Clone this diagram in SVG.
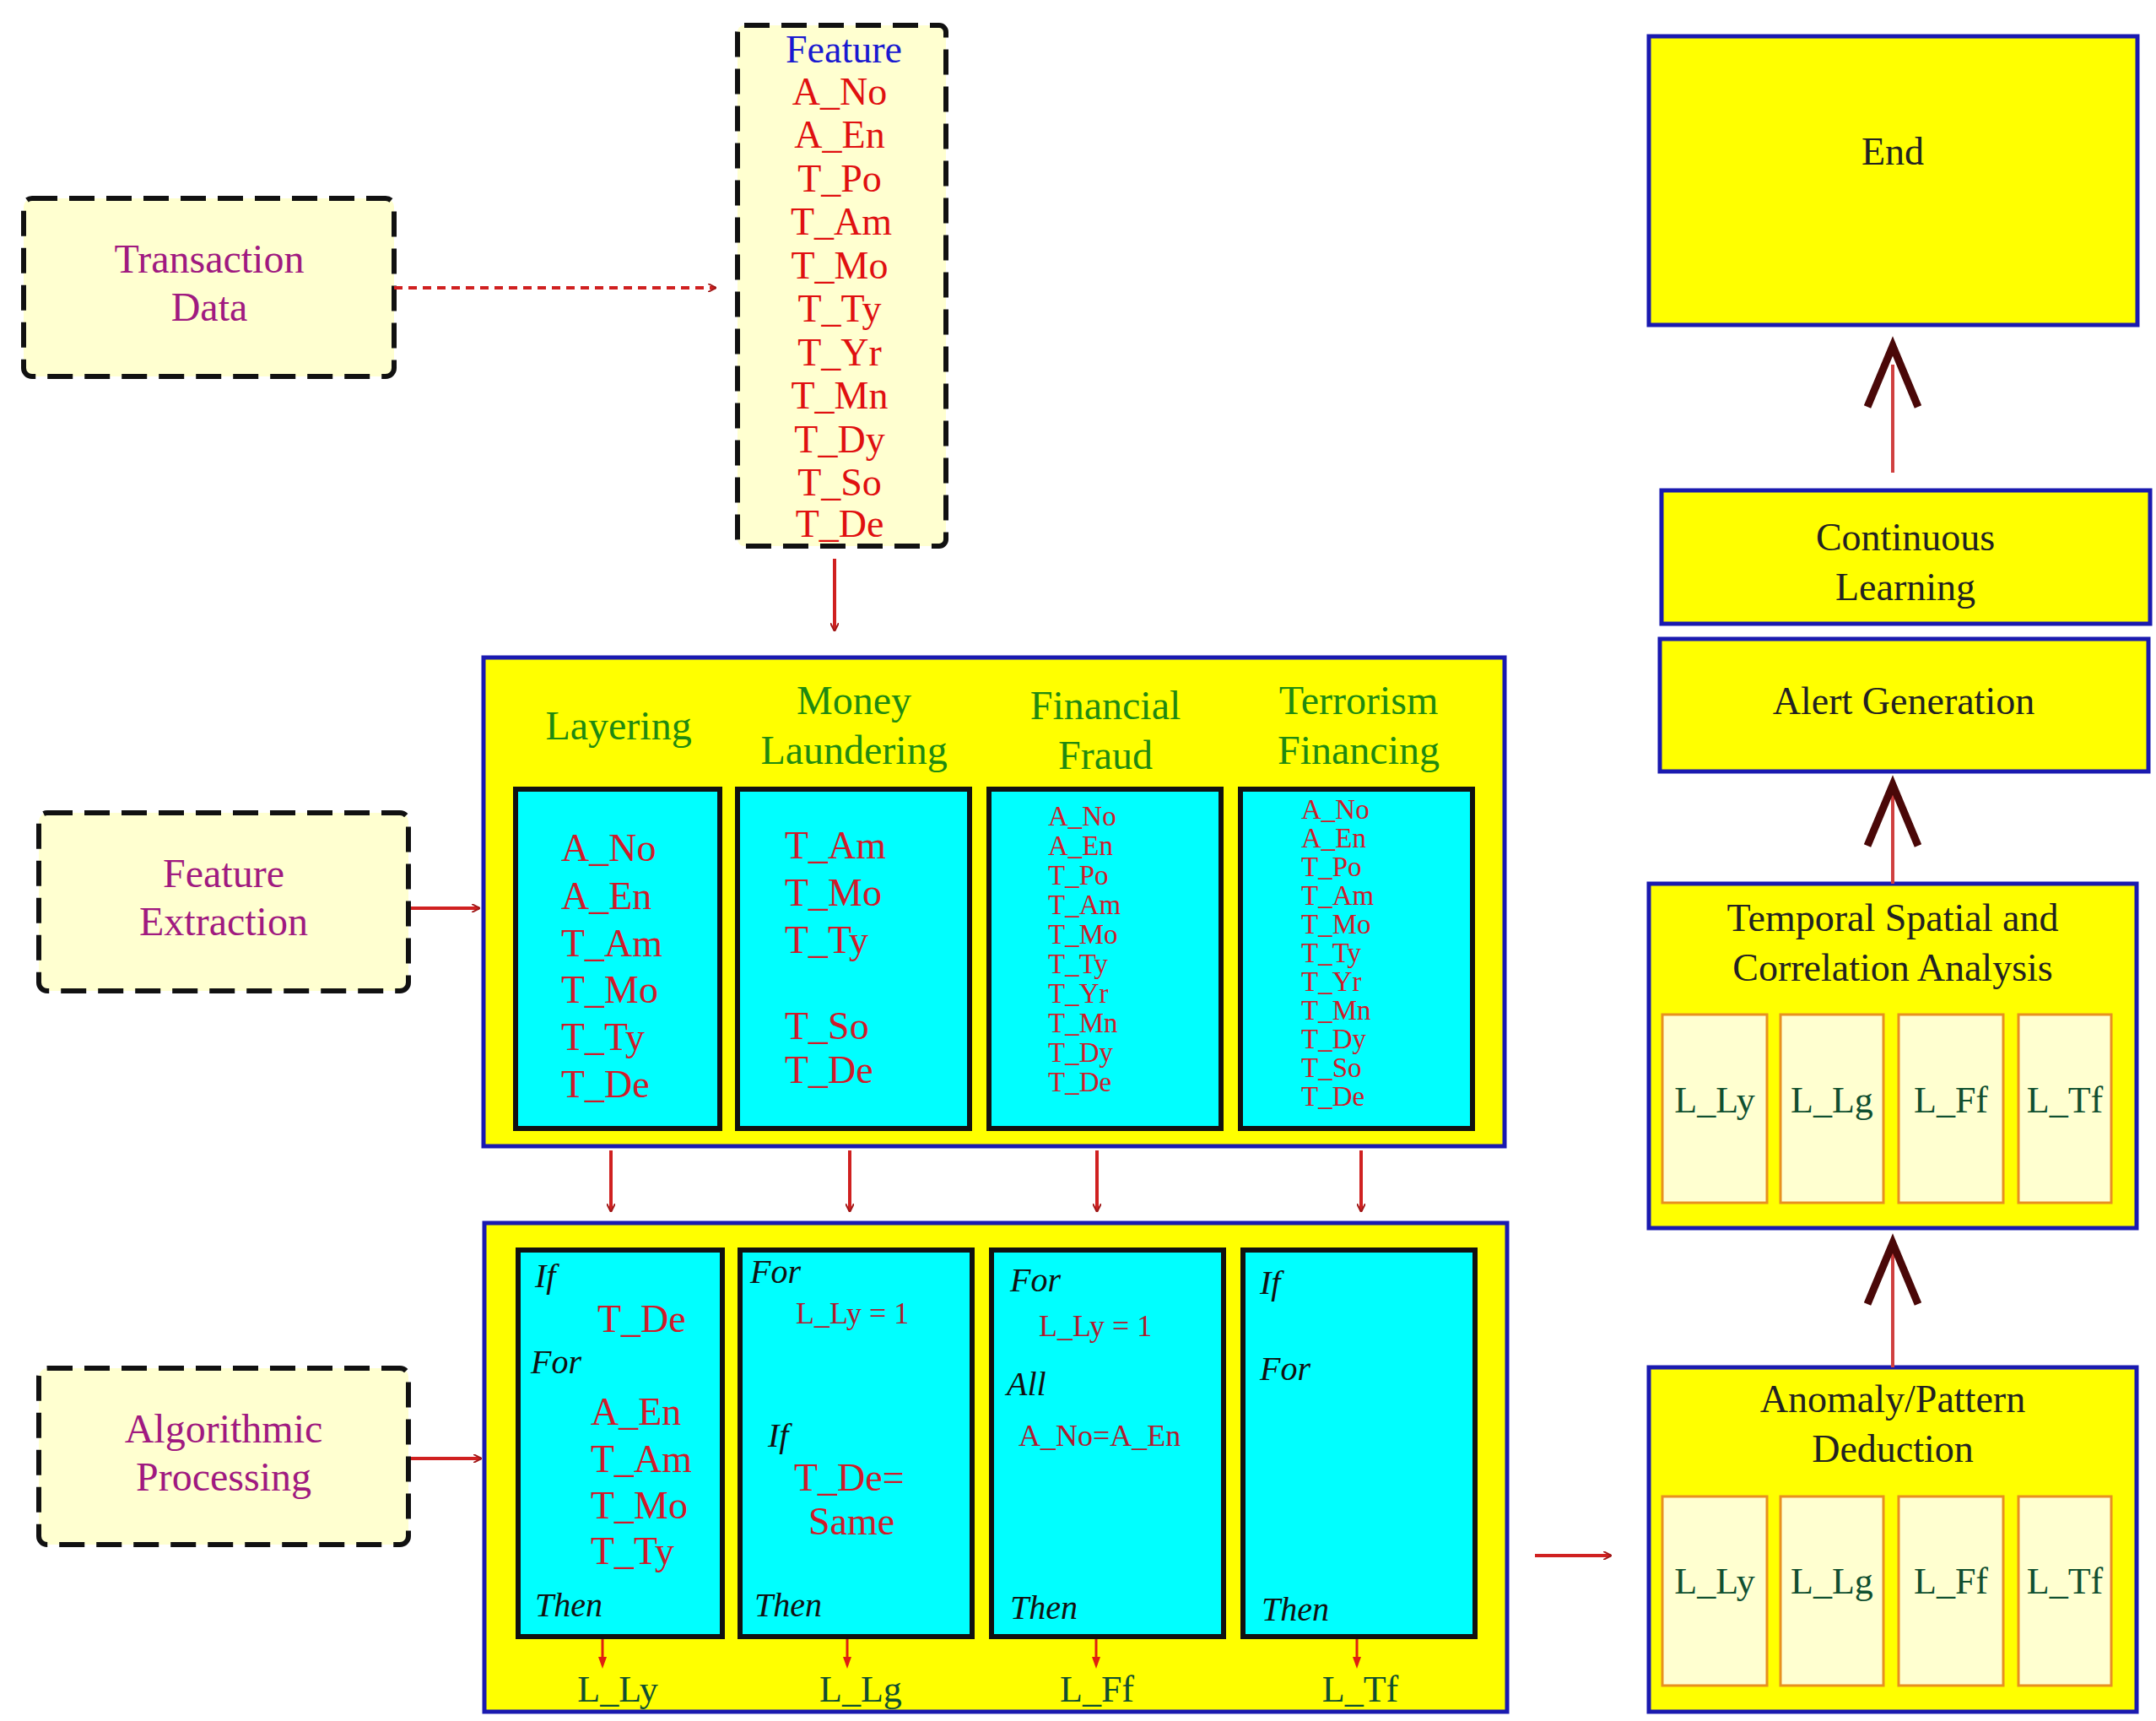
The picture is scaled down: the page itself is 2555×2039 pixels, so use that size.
<svg xmlns="http://www.w3.org/2000/svg" width="2555" height="2039" viewBox="0 0 2555 2039">
<style>
text{font-family:"Liberation Serif","Times New Roman",serif}
.dash{fill:#ffffd0;stroke:#111;stroke-width:6;stroke-dasharray:30,14}
.yb{fill:#ffff00;stroke:#1a1ab0;stroke-width:5}
.cy{fill:#00ffff;stroke:#111;stroke-width:6}
.lb{fill:#ffffd0;stroke:#e89020;stroke-width:3}
.mag{fill:#a01a80;font-size:48px;text-anchor:middle}
.hd{fill:#1f8a10;font-size:48px;text-anchor:middle}
.rd{fill:#d01a2a;font-size:46px}
.ft{fill:#e01010;font-size:46px;text-anchor:middle}
.it{fill:#111;font-size:40px;font-style:italic}
.sm{fill:#b01a30;font-size:36px}
.bk{fill:#222;font-size:46px;text-anchor:middle}
.gl{fill:#105030;font-size:44px;text-anchor:middle}
.ln{stroke:#d02020;stroke-width:4;fill:none}
.chev{stroke:#4a0808;stroke-width:9;fill:none}
</style>
<defs>
<marker id="ah" markerWidth="10" markerHeight="10" refX="9" refY="5" orient="auto" markerUnits="userSpaceOnUse" viewBox="0 0 10 10">
<path d="M0,0 L10,5 L0,10" fill="none" stroke="#a01818" stroke-width="2"/>
</marker>
<marker id="as" markerWidth="14" markerHeight="14" refX="7" refY="7" orient="auto" viewBox="0 0 14 14" markerUnits="userSpaceOnUse">
<path d="M0,2 L14,7 L0,12 z" fill="#e02010"/>
</marker>
</defs>

<g id="transaction-data">
<rect class="dash" x="28" y="235" width="439" height="211" rx="10"/>
<text class="mag" x="248" y="323">Transaction</text>
<text class="mag" x="248" y="380">Data</text>
</g>
<g id="feature-extraction">
<rect class="dash" x="46" y="963" width="438" height="211" rx="10"/>
<text class="mag" x="265" y="1051">Feature</text>
<text class="mag" x="265" y="1108">Extraction</text>
</g>
<g id="algorithmic-processing">
<rect class="dash" x="46" y="1621" width="438" height="209" rx="10"/>
<text class="mag" x="265" y="1709">Algorithmic</text>
<text class="mag" x="265" y="1766">Processing</text>
</g>

<g id="feature">
<rect class="dash" x="874" y="30" width="247" height="617" rx="8"/>
<text x="1000" y="74" fill="#1a1ad0" font-size="46" text-anchor="middle">Feature</text>
<text class="ft" x="995" y="124">A_No</text>
<text class="ft" x="995" y="175">A_En</text>
<text class="ft" x="995" y="227">T_Po</text>
<text class="ft" x="997" y="278">T_Am</text>
<text class="ft" x="995" y="330">T_Mo</text>
<text class="ft" x="995" y="381">T_Ty</text>
<text class="ft" x="995" y="433">T_Yr</text>
<text class="ft" x="995" y="484">T_Mn</text>
<text class="ft" x="995" y="536">T_Dy</text>
<text class="ft" x="995" y="587">T_So</text>
<text class="ft" x="995" y="636">T_De</text>
</g>

<g id="categories">
<rect class="yb" x="573" y="779" width="1210" height="579"/>
<text class="hd" x="733" y="876">Layering</text>
<text class="hd" x="1012" y="846">Money</text>
<text class="hd" x="1012" y="905">Laundering</text>
<text class="hd" x="1310" y="852">Financial</text>
<text class="hd" x="1310" y="911">Fraud</text>
<text class="hd" x="1610" y="846">Terrorism</text>
<text class="hd" x="1610" y="905">Financing</text>
<rect class="cy" x="611" y="935" width="242" height="402"/>
<rect class="cy" x="874" y="935" width="275" height="402"/>
<rect class="cy" x="1172" y="935" width="275" height="402"/>
<rect class="cy" x="1470" y="935" width="275" height="402"/>
<g class="rd" font-size="48">
<text x="665" y="1020">A_No</text><text x="665" y="1077">A_En</text><text x="665" y="1133">T_Am</text><text x="665" y="1188">T_Mo</text><text x="665" y="1244">T_Ty</text><text x="665" y="1300">T_De</text>
<text x="930" y="1017">T_Am</text><text x="930" y="1073">T_Mo</text><text x="930" y="1129">T_Ty</text><text x="930" y="1231">T_So</text><text x="930" y="1283">T_De</text>
</g>
<g class="rd" style="font-size:33px">
<text x="1242" y="978">A_No</text><text x="1242" y="1013">A_En</text><text x="1242" y="1048">T_Po</text><text x="1242" y="1083">T_Am</text><text x="1242" y="1118">T_Mo</text><text x="1242" y="1153">T_Ty</text><text x="1242" y="1188">T_Yr</text><text x="1242" y="1223">T_Mn</text><text x="1242" y="1258">T_Dy</text><text x="1242" y="1293">T_De</text>
<text x="1542" y="970">A_No</text><text x="1542" y="1004">A_En</text><text x="1542" y="1038">T_Po</text><text x="1542" y="1072">T_Am</text><text x="1542" y="1106">T_Mo</text><text x="1542" y="1140">T_Ty</text><text x="1542" y="1174">T_Yr</text><text x="1542" y="1208">T_Mn</text><text x="1542" y="1242">T_Dy</text><text x="1542" y="1276">T_So</text><text x="1542" y="1310">T_De</text>
</g>
</g>

<g id="rules">
<rect class="yb" x="574" y="1449" width="1212" height="579"/>
<rect class="cy" x="614" y="1481" width="242" height="458"/>
<rect class="cy" x="877" y="1481" width="275" height="458"/>
<rect class="cy" x="1175" y="1481" width="275" height="458"/>
<rect class="cy" x="1473" y="1481" width="275" height="458"/>
<text class="it" x="634" y="1525">If</text>
<text class="rd" x="708" y="1578">T_De</text>
<text class="it" x="629" y="1627">For</text>
<text class="rd" x="700" y="1688">A_En</text>
<text class="rd" x="700" y="1744">T_Am</text>
<text class="rd" x="700" y="1799">T_Mo</text>
<text class="rd" x="700" y="1853">T_Ty</text>
<text class="it" x="634" y="1915">Then</text>
<text class="it" x="889" y="1520">For</text>
<text class="sm" x="943" y="1568">L_Ly = 1</text>
<text class="it" x="910" y="1714">If</text>
<text class="rd" x="941" y="1766">T_De=</text>
<text class="rd" x="958" y="1818">Same</text>
<text class="it" x="894" y="1915">Then</text>
<text class="it" x="1197" y="1530">For</text>
<text class="sm" x="1231" y="1583">L_Ly = 1</text>
<text class="it" x="1193" y="1653">All</text>
<text class="sm" x="1207" y="1713">A_No=A_En</text>
<text class="it" x="1197" y="1918">Then</text>
<text class="it" x="1493" y="1533">If</text>
<text class="it" x="1493" y="1635">For</text>
<text class="it" x="1495" y="1920">Then</text>
<text class="gl" x="732" y="2016">L_Ly</text>
<text class="gl" x="1020" y="2016">L_Lg</text>
<text class="gl" x="1300" y="2016">L_Ff</text>
<text class="gl" x="1612" y="2016">L_Tf</text>
</g>

<g id="anomaly">
<rect class="yb" x="1954" y="1620" width="578" height="408"/>
<text class="bk" x="2243" y="1673">Anomaly/Pattern</text>
<text class="bk" x="2243" y="1732">Deduction</text>
<rect class="lb" x="1970" y="1773" width="124" height="224"/>
<rect class="lb" x="2110" y="1773" width="122" height="224"/>
<rect class="lb" x="2250" y="1773" width="124" height="224"/>
<rect class="lb" x="2392" y="1773" width="110" height="224"/>
<text class="gl" x="2032" y="1888">L_Ly</text><text class="gl" x="2171" y="1888">L_Lg</text><text class="gl" x="2312" y="1888">L_Ff</text><text class="gl" x="2447" y="1888">L_Tf</text>
</g>
<g id="temporal">
<rect class="yb" x="1954" y="1047" width="578" height="408"/>
<text class="bk" x="2243" y="1103">Temporal Spatial and</text>
<text class="bk" x="2243" y="1162">Correlation Analysis</text>
<rect class="lb" x="1970" y="1202" width="124" height="223"/>
<rect class="lb" x="2110" y="1202" width="122" height="223"/>
<rect class="lb" x="2250" y="1202" width="124" height="223"/>
<rect class="lb" x="2392" y="1202" width="110" height="223"/>
<text class="gl" x="2032" y="1318">L_Ly</text><text class="gl" x="2171" y="1318">L_Lg</text><text class="gl" x="2312" y="1318">L_Ff</text><text class="gl" x="2447" y="1318">L_Tf</text>
</g>
<g id="alert">
<rect class="yb" x="1967" y="757" width="579" height="157"/>
<text class="bk" x="2256" y="846">Alert Generation</text>
</g>
<g id="learning">
<rect class="yb" x="1969" y="581" width="579" height="158"/>
<text class="bk" x="2258" y="652">Continuous</text>
<text class="bk" x="2258" y="711">Learning</text>
</g>
<g id="end">
<rect class="yb" x="1954" y="43" width="579" height="342"/>
<text class="bk" x="2243" y="195">End</text>
</g>

<g id="connectors">
<line x1="467" y1="341" x2="848" y2="341" stroke="#d02020" stroke-width="4" stroke-dasharray="10,7" marker-end="url(#ah)"/>
<line class="ln" x1="989" y1="662" x2="989" y2="747" marker-end="url(#ah)"/>
<line class="ln" x1="487" y1="1076" x2="568" y2="1076" marker-end="url(#ah)"/>
<line class="ln" x1="487" y1="1728" x2="570" y2="1728" marker-end="url(#ah)"/>
<line class="ln" x1="724" y1="1363" x2="724" y2="1435" marker-end="url(#ah)"/>
<line class="ln" x1="1007" y1="1363" x2="1007" y2="1435" marker-end="url(#ah)"/>
<line class="ln" x1="1300" y1="1363" x2="1300" y2="1435" marker-end="url(#ah)"/>
<line class="ln" x1="1613" y1="1363" x2="1613" y2="1435" marker-end="url(#ah)"/>
<line class="ln" x1="1819" y1="1843" x2="1909" y2="1843" marker-end="url(#ah)"/>
<line x1="714" y1="1942" x2="714" y2="1970" stroke="#e02010" stroke-width="3" marker-end="url(#as)"/>
<line x1="1004" y1="1942" x2="1004" y2="1970" stroke="#e02010" stroke-width="3" marker-end="url(#as)"/>
<line x1="1299" y1="1942" x2="1299" y2="1970" stroke="#e02010" stroke-width="3" marker-end="url(#as)"/>
<line x1="1608" y1="1942" x2="1608" y2="1970" stroke="#e02010" stroke-width="3" marker-end="url(#as)"/>
<line x1="2243" y1="1620" x2="2243" y2="1475" stroke="#d04040" stroke-width="4"/>
<polyline class="chev" points="2213,1545 2243,1473 2273,1545"/>
<line x1="2243" y1="1047" x2="2243" y2="932" stroke="#d04040" stroke-width="4"/>
<polyline class="chev" points="2213,1002 2243,930 2273,1002"/>
<line x1="2243" y1="560" x2="2243" y2="432" stroke="#d04040" stroke-width="4"/>
<polyline class="chev" points="2213,482 2243,410 2273,482"/>
</g>
</svg>
